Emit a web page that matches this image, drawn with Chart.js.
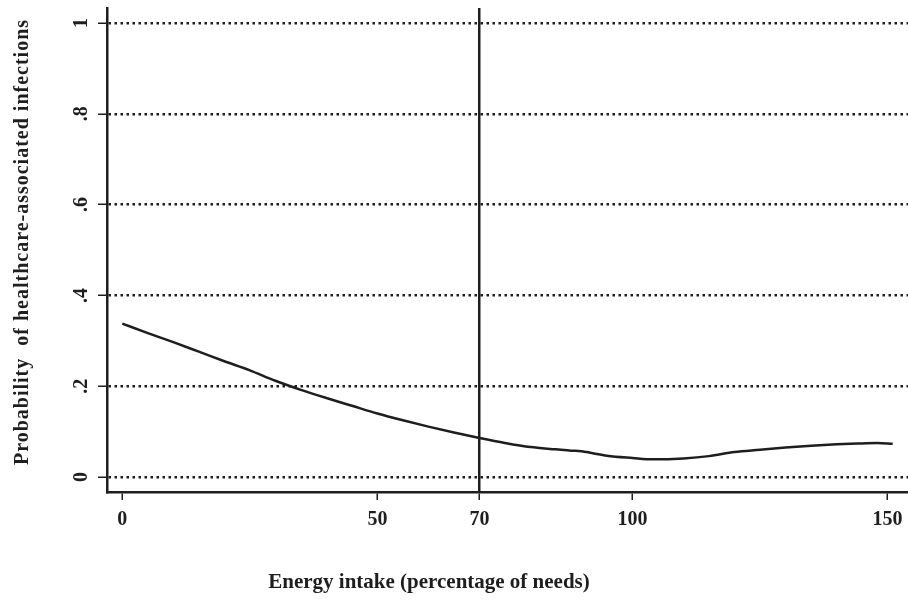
<!DOCTYPE html>
<html>
<head>
<meta charset="utf-8">
<script src="https://cdn.jsdelivr.net/npm/chart.js@4/dist/chart.umd.min.js"></script>
<style>
  body { margin: 0; background: #fff; }
  canvas { display: block; }
</style>
</head>
<body>
<canvas id="chart" width="908" height="601"></canvas>
<script>
// energy intake (% of needs) and fitted probability of infection
const energyIntake = [0, 5, 10, 15, 20, 25, 30, 35, 40, 45, 50, 55, 60, 65, 70, 75, 80, 85, 88, 90, 92, 95, 100, 104, 110, 115, 120, 125, 130, 135, 140, 145, 148, 151];
const probability = [0.338, 0.317, 0.297, 0.276, 0.255, 0.235, 0.212, 0.192, 0.174, 0.157, 0.140, 0.125, 0.111, 0.098, 0.086, 0.075, 0.066, 0.061, 0.058, 0.057, 0.053, 0.047, 0.042, 0.039, 0.041, 0.046, 0.055, 0.060, 0.065, 0.069, 0.072, 0.074, 0.075, 0.073];

const xTicks = [0, 50, 70, 100, 150];
const yTicks = [0, 0.2, 0.4, 0.6, 0.8, 1];
const yTickLabels = ['0', '.2', '.4', '.6', '.8', '1'];
const referenceLine = 70;

const xTitle = 'Energy intake (percentage of needs)';
const yTitle = 'Probability  of healthcare-associated infections';

const ink = '#1e1e1e';
const serif = '"Liberation Serif", "Times New Roman", serif';

const axisTitles = {
    id: 'axisTitles',
    afterDraw(chart) {
        const ctx = chart.ctx;
        ctx.save();
        ctx.fillStyle = ink;
        ctx.textAlign = 'center';
        ctx.textBaseline = 'middle';
        ctx.font = 'bold 21px ' + serif;
        ctx.fillText(xTitle, 429, 583);
        ctx.translate(23, 242);
        ctx.rotate(-Math.PI / 2);
        ctx.font = 'bold 20px ' + serif;
        ctx.letterSpacing = '1px';
        ctx.fillText(yTitle, 0, 0);
        ctx.restore();
    }
};

new Chart(document.getElementById('chart'), {
    type: 'line',
    data: {
        datasets: [{
            data: energyIntake.map((x, i) => ({ x: x, y: probability[i] })),
            borderColor: ink,
            borderWidth: 2.5,
            pointRadius: 0,
            cubicInterpolationMode: 'monotone',
            fill: false
        }]
    },
    options: {
        responsive: false,
        animation: false,
        layout: { padding: { top: 8, right: 0, left: 0, bottom: 0 } },
        plugins: { legend: { display: false }, tooltip: { enabled: false } },
        scales: {
            x: {
                type: 'linear',
                min: -3,
                max: 154,
                afterBuildTicks: scale => { scale.ticks = xTicks.map(v => ({ value: v })); },
                afterFit: scale => {
                    scale.height = 109;
                    scale.paddingLeft = 0;
                    scale.paddingRight = 0;
                },
                border: { display: true, color: ink, width: 2.5 },
                grid: {
                    color: c => (c.tick && c.tick.value === referenceLine) ? ink : 'rgba(0,0,0,0)',
                    lineWidth: 2.5,
                    drawTicks: true,
                    tickLength: 8,
                    tickColor: ink,
                    tickWidth: 1.5
                },
                ticks: {
                    color: ink,
                    padding: 8,
                    maxRotation: 0,
                    font: { family: serif, size: 20, weight: 'bold' },
                    callback: v => String(v)
                }
            },
            y: {
                type: 'linear',
                min: -0.033,
                max: 1.033,
                afterBuildTicks: scale => { scale.ticks = yTicks.map(v => ({ value: v })); },
                afterFit: scale => {
                    scale.width = 107;
                    scale.paddingTop = 0;
                    scale.paddingBottom = 0;
                },
                border: { display: true, color: ink, width: 2.5, dash: [2.5, 3.5] },
                grid: {
                    color: ink,
                    lineWidth: 2.5,
                    drawTicks: true,
                    tickLength: 9,
                    tickColor: ink,
                    tickWidth: 1.5,
                    tickBorderDash: []
                },
                ticks: {
                    color: ink,
                    padding: 9,
                    minRotation: 90,
                    maxRotation: 90,
                    crossAlign: 'center',
                    font: { family: serif, size: 20, weight: 'bold' },
                    callback: (v, i) => yTickLabels[yTicks.indexOf(v)]
                }
            }
        }
    },
    plugins: [axisTitles]
});
</script>
</body>
</html>
